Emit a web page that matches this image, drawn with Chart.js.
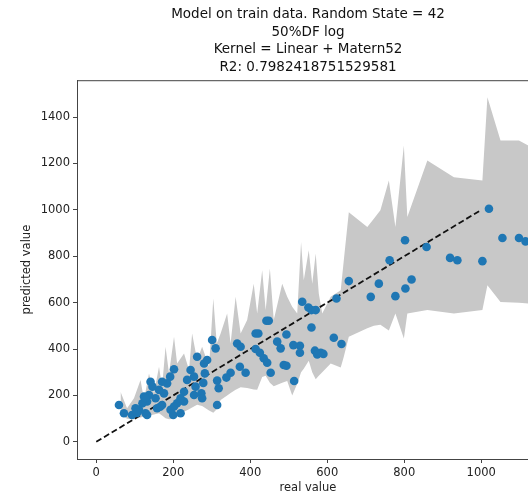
<!DOCTYPE html>
<html>
<head>
<meta charset="utf-8">
<script src="https://cdn.jsdelivr.net/npm/chart.js@4.4.1/dist/chart.umd.min.js"></script>
<style>
  html, body { margin: 0; padding: 0; background: #fff; overflow: hidden; }
  #wrap { width: 600px; height: 495px; }
</style>
</head>
<body>
<div id="wrap"><canvas id="chartPred" width="600" height="495"></canvas></div>
<script>
// ---- data ----
const realVals = [1020, 1055, 1098, 1115, 1003, 919, 938, 858, 802, 762, 819, 803, 777, 734, 713, 656, 624,
    559, 535, 551, 570, 559, 617, 637, 583, 590, 568, 574, 529, 512, 529, 514, 494, 470, 479, 487, 494,
    453, 442, 448, 421, 414, 414, 425, 435, 444, 388, 373, 366, 375, 349, 338, 318, 314, 314, 301, 310,
    280, 282, 262, 273, 275, 245, 254, 236, 258, 228, 228, 210, 200, 193, 202, 192, 184, 171, 176, 163,
    154, 146, 141, 137, 132, 124, 120, 111, 102, 93, 72, 59, 128, 132, 158, 171, 219, 219, 202, 254,
    288, 278, 166, 106, 127];
const predVals = [1005, 879, 879, 864, 779, 793, 783, 840, 869, 783, 700, 661, 628, 682, 625, 693, 618,
    568, 604, 579, 568, 493, 449, 422, 384, 379, 393, 377, 414, 417, 384, 262, 463, 432, 403, 331, 328,
    298, 522, 522, 467, 467, 400, 384, 360, 341, 298, 324, 424, 410, 298, 277, 231, 159, 264, 439, 403,
    338, 295, 367, 209, 188, 310, 281, 267, 238, 216, 174, 166, 116, 138, 313, 281, 252, 259, 209, 224,
    188, 238, 259, 202, 174, 195, 166, 138, 145, 116, 123, 159, 123, 116, 145, 159, 123, 188, 152, 202,
    353, 254, 151, 125, 189];

// uncertainty band (sorted by real value)
const bandX = [63, 80, 98, 115, 124, 137, 150, 163, 171, 180, 189, 202, 210, 228, 241, 249, 262, 275, 293,
    304, 313, 323, 340, 349, 362, 375, 392, 409, 418, 431, 440, 451, 461, 483, 496, 509, 522, 532, 539,
    552, 561, 570, 578, 587, 609, 635, 643, 656, 704, 721, 738, 760, 777, 799, 808, 860, 929, 1003, 1016,
    1050, 1098, 1122];
const bandHigh = [216, 145, 188, 267, 181, 295, 209, 324, 238, 410, 295, 453, 338, 381, 310, 467, 353, 410,
    324, 618, 424, 467, 553, 424, 625, 467, 525, 682, 553, 740, 568, 747, 525, 682, 625, 582, 553, 862,
    697, 826, 682, 812, 640, 553, 625, 654, 783, 990, 926, 962, 998, 1127, 926, 1277, 969, 1213, 1141,
    1127, 1485, 1299, 1299, 1277];
const bandLow = [120, 100, 97, 105, 109, 113, 118, 123, 113, 102, 97, 100, 113, 130, 140, 148, 160, 155, 135,
    125, 140, 180, 200, 210, 225, 235, 232, 226, 224, 280, 285, 255, 240, 255, 262, 200, 250, 300, 315,
    350, 300, 270, 285, 300, 338, 320, 367, 453, 490, 500, 505, 480, 553, 446, 553, 568, 553, 568, 675,
    603, 600, 596];

// perfect prediction line
const lineX = [0, 1000];
const lineY = [0, 1000];

const xTicks = [0, 200, 400, 600, 800, 1000];
const yTicks = [0, 200, 400, 600, 800, 1000, 1200, 1400];

const titleLines = [
    'Model on train data. Random State = 42',
    '50%DF log',
    'Kernel = Linear + Matern52',
    'R2: 0.7982418751529581'
];

// ---- build datasets ----
const pts = realVals.map((v, i) => ({ x: v, y: predVals[i] }));
const upper = bandX.map((v, i) => ({ x: v, y: bandHigh[i] }));
const lower = bandX.map((v, i) => ({ x: v, y: bandLow[i] }));
const diag = lineX.map((v, i) => ({ x: v, y: lineY[i] }));

// box around the axes like matplotlib
const frame = {
    id: 'frame',
    afterDraw(chart) {
        const a = chart.chartArea, ctx = chart.ctx;
        ctx.save();
        ctx.strokeStyle = '#444';
        ctx.lineWidth = 1;
        ctx.strokeRect(a.left + 0.5, a.top + 0.5, a.right - a.left, a.bottom - a.top);
        ctx.restore();
    }
};

const fnt = 'DejaVu Sans';
Chart.defaults.font.family = fnt;
Chart.defaults.color = '#222';

new Chart(document.getElementById('chartPred'), {
    type: 'scatter',
    data: {
        datasets: [
            {
                data: pts,
                backgroundColor: '#1f77b4',
                borderWidth: 0,
                pointRadius: 4.3
            },
            {
                type: 'line',
                data: diag,
                borderColor: '#111',
                borderWidth: 1.8,
                borderDash: [6, 3],
                pointRadius: 0,
                fill: false
            },
            {
                type: 'line',
                data: upper,
                borderWidth: 0,
                pointRadius: 0,
                backgroundColor: '#c8c8c8',
                fill: '+1',
                tension: 0
            },
            {
                type: 'line',
                data: lower,
                borderWidth: 0,
                pointRadius: 0,
                fill: false,
                tension: 0
            }
        ]
    },
    options: {
        responsive: false,
        animation: false,
        layout: { padding: { left: 0, right: 61, top: 0, bottom: 0 } },
        plugins: {
            legend: { display: false },
            tooltip: { enabled: false },
            title: {
                display: true,
                fullSize: false,
                text: titleLines,
                color: '#111',
                font: { size: 13.5, weight: 'normal', lineHeight: 1.3 },
                padding: { top: 6, bottom: 4 }
            }
        },
        scales: {
            x: {
                type: 'linear',
                min: -50,
                max: 1150,
                afterBuildTicks: s => { s.ticks = xTicks.map(v => ({ value: v })); },
                afterFit: s => { s.height = 36; },
                grid: { drawOnChartArea: false, drawTicks: true, tickLength: 4, color: '#444' },
                border: { display: true, color: '#444' },
                ticks: { font: { size: 11.5 }, padding: 3, maxRotation: 0, callback: v => String(v) },
                title: { display: true, text: 'real value', font: { size: 11.5 }, padding: { top: 0, bottom: 0 } }
            },
            y: {
                type: 'linear',
                min: -74,
                max: 1559,
                afterBuildTicks: s => { s.ticks = yTicks.map(v => ({ value: v })); },
                afterFit: s => { s.width = 77; },
                grid: { drawOnChartArea: false, drawTicks: true, tickLength: 4, color: '#444' },
                border: { display: true, color: '#444' },
                ticks: { font: { size: 11.5 }, padding: 3, callback: v => String(v) },
                title: { display: true, text: 'predicted value', font: { size: 11.5 }, padding: { top: 20, bottom: 0 } }
            }
        }
    },
    plugins: [frame]
});
</script>
</body>
</html>
